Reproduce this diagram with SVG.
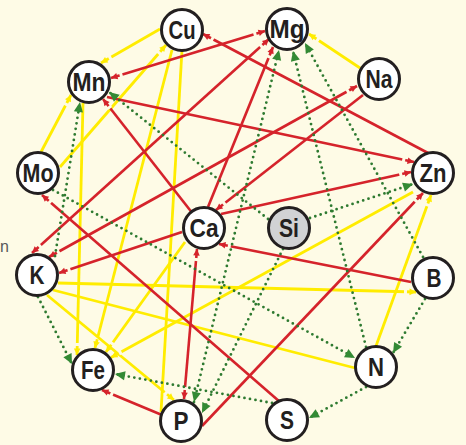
<svg xmlns="http://www.w3.org/2000/svg" width="466" height="445" viewBox="0 0 466 445">
<style>
.r{stroke:#d5232b;stroke-width:2.6;fill:none}
.y{stroke:#ffec00;stroke-width:2.8;fill:none}
.g{stroke:#2e7a30;stroke-width:2.8;stroke-dasharray:0 5.6;stroke-linecap:round;fill:none}
.node circle{fill:#fff;stroke:#231f20;stroke-width:3}
.node text{font-family:'Liberation Sans',Arial,sans-serif;font-weight:bold;font-size:25px;fill:#231f20;text-anchor:middle}
</style>
<defs>
<marker id="ra" markerUnits="userSpaceOnUse" orient="auto-start-reverse" refX="0" refY="0" markerWidth="20" markerHeight="10" overflow="visible">
<path d="M-12,0H-9" stroke="#fefbe6" stroke-width="4.5"/>
<path d="M-6.5,-3.3L0,0L-6.5,3.3Z" fill="#d5232b"/>
</marker>
<marker id="ya" markerUnits="userSpaceOnUse" orient="auto-start-reverse" refX="0" refY="0" markerWidth="20" markerHeight="10" overflow="visible">
<path d="M-12,0H-9" stroke="#fefbe6" stroke-width="4.5"/>
<path d="M-6.5,-3.3L0,0L-6.5,3.3Z" fill="#ffec00"/>
</marker>
<marker id="ga" markerUnits="userSpaceOnUse" orient="auto-start-reverse" refX="0" refY="0" markerWidth="20" markerHeight="10" overflow="visible">
<path d="M-10,-4.6L0,0L-10,4.6Z" fill="#338a34"/>
</marker>
</defs>
<rect width="466" height="445" fill="#fefbe6"/>
<text x="0" y="252" style="font-family:'Liberation Sans',sans-serif;font-size:16px;fill:#58595b">n</text>
<g id="connectors">
<g id="yellow">
<line class="y" x1="160" y1="29" x2="101" y2="63" marker-end="url(#ya)"/>
<line class="y" x1="41" y1="152" x2="71" y2="95" marker-end="url(#ya)"/>
<line class="y" x1="60" y1="167" x2="166" y2="45" marker-end="url(#ya)"/>
<line class="y" x1="172" y1="50" x2="95" y2="348" marker-end="url(#ya)"/>
<line class="y" x1="182" y1="50" x2="161" y2="412"/>
<line class="y" x1="83" y1="103" x2="77" y2="355" marker-end="url(#ya)"/>
<line class="y" x1="58" y1="283" x2="416" y2="292" marker-end="url(#ya)"/>
<line class="y" x1="53" y1="290" x2="355" y2="368"/>
<line class="y" x1="47" y1="295" x2="174" y2="400" marker-end="url(#ya)"/>
<line class="y" x1="413" y1="192" x2="111" y2="357.5" marker-end="url(#ya)"/>
<line class="y" x1="185" y1="242" x2="106" y2="352" marker-end="url(#ya)"/>
<line class="y" x1="360" y1="68" x2="309" y2="34" marker-end="url(#ya)"/>
<line class="y" x1="376" y1="346" x2="431" y2="195" marker-end="url(#ya)"/>
</g>
<g id="red">
<line class="r" x1="428" y1="153" x2="203" y2="34" marker-end="url(#ra)"/>
<line class="r" x1="107" y1="97" x2="414" y2="162" marker-end="url(#ra)"/>
<line class="r" x1="221" y1="214" x2="411" y2="172" marker-end="url(#ra)"/>
<line class="r" x1="202" y1="426" x2="423" y2="193" marker-end="url(#ra)"/>
<line class="r" x1="32" y1="253" x2="269" y2="39" marker-start="url(#ra)" marker-end="url(#ra)"/>
<line class="r" x1="49" y1="257" x2="357" y2="86" marker-start="url(#ra)" marker-end="url(#ra)"/>
<line class="r" x1="182" y1="232" x2="59" y2="273" marker-end="url(#ra)"/>
<line class="r" x1="280" y1="402" x2="42" y2="195" marker-end="url(#ra)"/>
<line class="r" x1="204" y1="228" x2="103" y2="99" marker-end="url(#ra)"/>
<line class="r" x1="363" y1="95" x2="216" y2="210" marker-end="url(#ra)"/>
<line class="r" x1="208" y1="207" x2="273" y2="47" marker-end="url(#ra)"/>
<line class="r" x1="111" y1="78" x2="265" y2="31" marker-start="url(#ra)" marker-end="url(#ra)"/>
<line class="r" x1="411" y1="282" x2="219" y2="244" marker-end="url(#ra)"/>
<line class="r" x1="197" y1="249" x2="184" y2="399" marker-start="url(#ra)" marker-end="url(#ra)"/>
<line class="r" x1="162" y1="415" x2="102" y2="390" marker-end="url(#ra)"/>
</g>
<g id="green">
<line class="g" x1="55" y1="256" x2="80" y2="102" marker-end="url(#ga)"/>
<line class="g" x1="268" y1="219" x2="109" y2="92" marker-end="url(#ga)"/>
<line class="g" x1="53" y1="190" x2="355" y2="358" marker-end="url(#ga)"/>
<line class="g" x1="38" y1="297" x2="72" y2="364" marker-end="url(#ga)"/>
<line class="g" x1="272" y1="403" x2="115" y2="374" marker-end="url(#ga)"/>
<line class="g" x1="366" y1="387" x2="309" y2="418" marker-end="url(#ga)"/>
<line class="g" x1="425" y1="299" x2="393" y2="353" marker-end="url(#ga)"/>
<line class="g" x1="194" y1="402" x2="279" y2="50" marker-start="url(#ga)" marker-end="url(#ga)"/>
<line class="g" x1="283" y1="249" x2="202" y2="413" marker-end="url(#ga)"/>
<line class="g" x1="366" y1="347" x2="293" y2="51" marker-end="url(#ga)"/>
<line class="g" x1="423" y1="257" x2="305" y2="43" marker-end="url(#ga)"/>
<line class="g" x1="310" y1="218" x2="413" y2="184" marker-end="url(#ga)"/>
</g>
</g>
<g id="nodes">
<g id="Cu" class="node"><circle cx="182" cy="30" r="20.5"/><text x="182" y="39" textLength="27" lengthAdjust="spacingAndGlyphs">Cu</text></g>
<g id="Mg" class="node"><circle cx="287" cy="29" r="20.5"/><text x="287" y="38" textLength="35" lengthAdjust="spacingAndGlyphs">Mg</text></g>
<g id="Mn" class="node"><circle cx="89" cy="82" r="20.5"/><text x="89" y="91" textLength="33" lengthAdjust="spacingAndGlyphs">Mn</text></g>
<g id="Na" class="node"><circle cx="379" cy="79" r="20.5"/><text x="379" y="88" textLength="27" lengthAdjust="spacingAndGlyphs">Na</text></g>
<g id="Mo" class="node"><circle cx="38" cy="173" r="20.5"/><text x="38" y="182" textLength="31" lengthAdjust="spacingAndGlyphs">Mo</text></g>
<g id="Zn" class="node"><circle cx="433" cy="173" r="20.5"/><text x="433" y="182" textLength="27" lengthAdjust="spacingAndGlyphs">Zn</text></g>
<g id="Ca" class="node"><circle cx="204" cy="228" r="20.5"/><text x="204" y="237" textLength="29" lengthAdjust="spacingAndGlyphs">Ca</text></g>
<g id="Si" class="node"><circle cx="289" cy="228" r="20.5" style="fill:#d1d2d4"/><text x="289" y="237" textLength="20" lengthAdjust="spacingAndGlyphs">Si</text></g>
<g id="K" class="node"><circle cx="37" cy="275" r="20.5"/><text x="37" y="284" textLength="15" lengthAdjust="spacingAndGlyphs">K</text></g>
<g id="B" class="node"><circle cx="433" cy="278" r="20.5"/><text x="434" y="287" textLength="15" lengthAdjust="spacingAndGlyphs">B</text></g>
<g id="Fe" class="node"><circle cx="93" cy="370" r="20.5"/><text x="93" y="379" textLength="24" lengthAdjust="spacingAndGlyphs">Fe</text></g>
<g id="N" class="node"><circle cx="376" cy="367" r="20.5"/><text x="376" y="376" textLength="16" lengthAdjust="spacingAndGlyphs">N</text></g>
<g id="P" class="node"><circle cx="181" cy="421" r="20.5"/><text x="181" y="430" textLength="15" lengthAdjust="spacingAndGlyphs">P</text></g>
<g id="S" class="node"><circle cx="287" cy="420" r="20.5"/><text x="287" y="429" textLength="14" lengthAdjust="spacingAndGlyphs">S</text></g>
</g>
</svg>
